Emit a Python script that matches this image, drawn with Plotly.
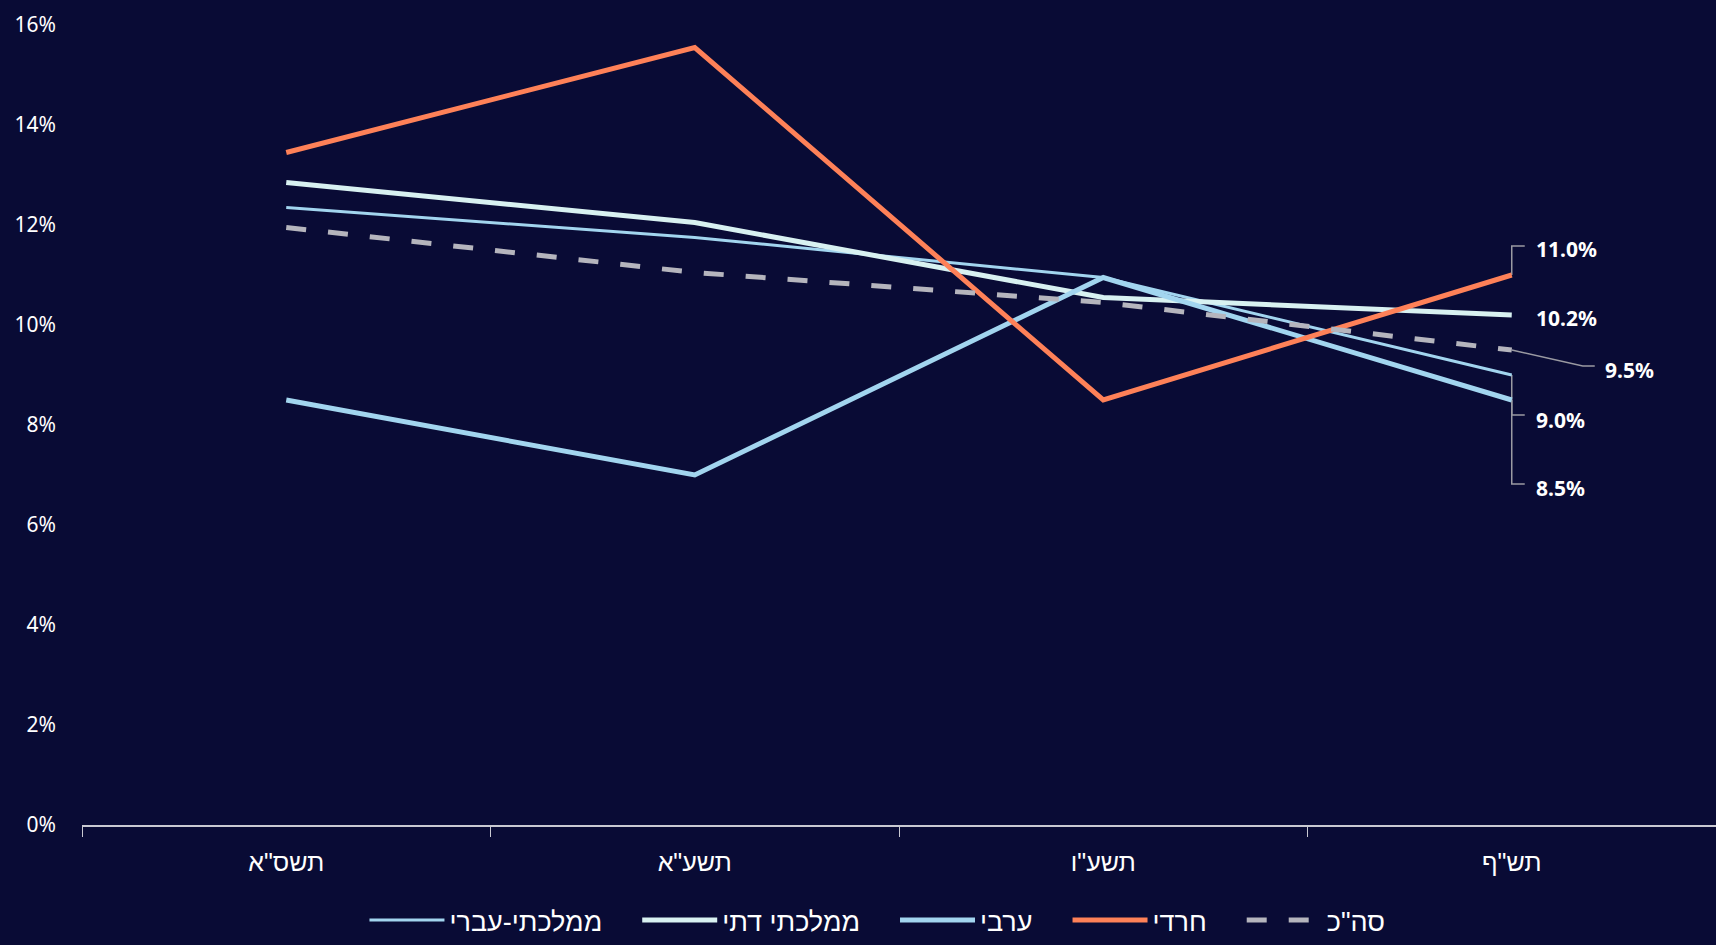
import plotly.graph_objects as go

years = ['תשס"א', 'תשע"א', 'תשע"ו', 'תש"ף']

mamlachti_ivri = [12.35, 11.75, 10.95, 9.0]
mamlachti_dati = [12.85, 12.05, 10.55, 10.2]
aravi = [8.5, 7.0, 10.95, 8.5]
haredi = [13.45, 15.55, 8.5, 11.0]
total = [11.95, 11.05, 10.45, 9.5]

y_ticks = [0, 2, 4, 6, 8, 10, 12, 14, 16]

BG = '#090b35'
HEB = 'Liberation Sans Narrow, Liberation Sans, DejaVu Sans, sans-serif'
NUM = 'Noto Sans, Open Sans, sans-serif'
PAD = '\u00a0' * 4  # extra room between legend entries

fig = go.Figure()

series = [
    ('ממלכתי-עברי', mamlachti_ivri, '#a2d5ef', 3, 'solid'),
    ('ממלכתי דתי', mamlachti_dati, '#d8f1f1', 5, 'solid'),
    ('ערבי', aravi, '#a2d5ef', 5, 'solid'),
    ('חרדי', haredi, '#fe8158', 5, 'solid'),
    ('סה"כ', total, '#b5b5bd', 5, '20px,22px'),
]
for name, vals, color, w, dash in series:
    fig.add_trace(go.Scatter(x=years, y=vals, name=name + PAD, mode='lines',
                             line=dict(color=color, width=w, dash=dash),
                             hoverinfo='skip'))

# end labels with elbow leaders (offsets in pixels from the last point)
last = years[-1]
end_labels = [
    (haredi[-1], 22, 26, 'M0,0 L0,29 L13,29'),
    (mamlachti_dati[-1], 22, -3, None),
    (total[-1], 91, -20, 'M0,0 L71,-16 L83,-16'),
    (mamlachti_ivri[-1], 22, -45, 'M0,0 L0,-40 L13,-40'),
    (aravi[-1], 22, -88, 'M0,0 L0,-84 L13,-84'),
]
for v, dx, dy, path in end_labels:
    fig.add_annotation(x=last, y=v, text=f'{v:.1f}%', showarrow=False,
                       xanchor='left', yanchor='middle', xshift=dx, yshift=dy,
                       font=dict(family=NUM, size=21, color='white', weight='bold'))
    if path:
        fig.add_shape(type='path', xref='x', yref='y', xsizemode='pixel', ysizemode='pixel',
                      xanchor=last, yanchor=v, path=path,
                      line=dict(color='#9a9aa2', width=1.5), layer='below')

fig.update_layout(
    width=1716, height=945,
    paper_bgcolor=BG, plot_bgcolor=BG,
    margin=dict(l=82, r=0, t=25, b=120),
    showlegend=True,
    legend=dict(orientation='h', x=0.496, xanchor='center', y=0.026, yanchor='middle',
                yref='container', font=dict(family=HEB, size=27, color='white'),
                itemwidth=75, bgcolor='rgba(0,0,0,0)'),
    xaxis=dict(range=[-0.5, 3.5], showline=True, linecolor='#c9c9d2', linewidth=2,
               ticks='outside', ticklen=10, tickcolor='#c9c9d2', tickwidth=1,
               tickson='boundaries', showgrid=False, zeroline=False, ticklabelstandoff=14,
               tickfont=dict(family=HEB, size=25, color='white')),
    yaxis=dict(range=[0, 16], tickvals=y_ticks, ticktext=[f'{t}%' for t in y_ticks],
               showgrid=False, zeroline=False, showline=False, ticklabelstandoff=25,
               tickfont=dict(family=NUM, size=21, color='white')),
)

fig.write_html('out.html', config={'displayModeBar': False},
               post_script="document.body.style.margin='0';")
